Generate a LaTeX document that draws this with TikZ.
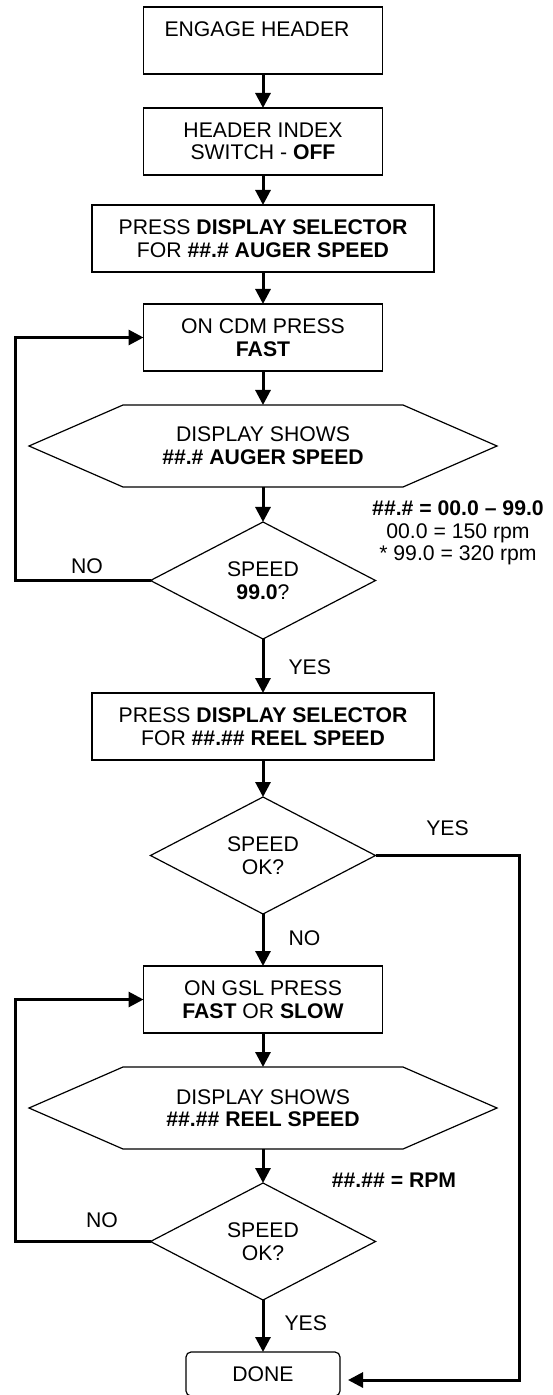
\documentclass[tikz,border=0pt]{standalone}
\usepackage{fontspec}
\setmainfont{Liberation Sans}
\usetikzlibrary{positioning,arrows.meta,shapes.geometric}

\begin{document}
\begin{tikzpicture}[
    x=0.5pt, y=-0.5pt,
    node distance=17pt,
    font=\fontsize{10.6}{11.3}\selectfont,
    box/.style={draw, line width=0.6pt, minimum width=119.5pt, minimum height=33.5pt, inner sep=0pt, outer sep=0pt, align=center},
    widebox/.style={box, minimum width=171pt},
    hexa/.style={minimum width=140pt, minimum height=41pt, inner sep=0pt, outer sep=0pt, align=center},
    decide/.style={draw, diamond, line width=0.6pt, minimum width=112.5pt, minimum height=58.5pt, inner sep=0pt, outer sep=0pt, align=center},
    endbox/.style={draw, rounded corners=2.5pt, line width=0.6pt, minimum width=77pt, minimum height=22pt, inner sep=0pt, outer sep=0pt},
    lbl/.style={inner sep=0pt},
    note/.style={align=center, inner sep=0pt},
    flow/.style={line width=1.5pt, ->},
    >={Triangle[length=7.5pt, width=7.5pt]}
]
    \useasboundingbox (0,0) rectangle (552,1395);

    % main column
    \node[box] (engage) at (263,40.5) {ENGAGE HEADER\rule{6pt}{0pt}\\\mbox{}};
    \node[box, below=of engage] (index) {HEADER INDEX\\SWITCH - \textbf{OFF}};
    \node[widebox, below=15pt of index] (selA) {PRESS \textbf{DISPLAY SELECTOR}\\FOR \textbf{\#\#.\# AUGER SPEED}};
    \node[box, below=16pt of selA] (cdm) {ON CDM PRESS\\\textbf{FAST}};
    \node[hexa, below=17pt of cdm] (showA) {DISPLAY SHOWS\\\textbf{\#\#.\# AUGER SPEED}};
    \node[decide, below=17.5pt of showA] (spdA) {SPEED\\\textbf{99.0}?};
    \node[widebox, below=27pt of spdA] (selB) {PRESS \textbf{DISPLAY SELECTOR}\\FOR \textbf{\#\#.\#\# REEL SPEED}};
    \node[decide, below=18.5pt of selB] (okA) {SPEED\\OK?};
    \node[box, below=26pt of okA] (gsl) {ON GSL PRESS\\\textbf{FAST} OR \textbf{SLOW}};
    \node[hexa, below=17pt of gsl] (showB) {DISPLAY SHOWS\\\textbf{\#\#.\#\# REEL SPEED}};
    \node[decide, below=17pt of showB] (okB) {SPEED\\OK?};
    \node[endbox, below=26pt of okB] (done) {DONE};

    % notes
    \node[note] (augernote) at (458,533) {\textbf{\#\#.\# = 00.0 -- 99.0}\\00.0 = 150 rpm\\* 99.0 = 320 rpm};
    \node[note] (reelnote) at (394,1180) {\textbf{\#\#.\#\# = RPM}};

    % display outlines
    \foreach \h in {showA,showB}
        \draw[line width=0.6pt] (\h.north west) -- (\h.north east) -- ([xshift=47pt]\h.east)
            -- (\h.south east) -- (\h.south west) -- ([xshift=-47pt]\h.west) -- cycle;

    \draw[flow] (engage) -- (index);
    \draw[flow] (index) -- (selA);
    \draw[flow] (selA) -- (cdm);
    \draw[flow] (cdm) -- (showA);
    \draw[flow] (showA) -- (spdA);
    \draw[flow] (spdA.west) -- node[lbl, above=2.5pt, pos=0.47] {NO} ++(-67.5pt,0) |- (cdm.west);
    \draw[flow] (spdA) -- node[lbl, right=12pt, pos=0.52] {YES} (selB);
    \draw[flow] (selB) -- (okA);
    \draw[flow, shorten >=4pt] (okA.east) -- node[lbl, above=9.2pt] {YES} ++(72pt,0) |- ([yshift=-3pt]done.east);
    \draw[flow] (okA) -- node[lbl, right=12pt, pos=0.46] {NO} (gsl);
    \draw[flow] (gsl) -- (showB);
    \draw[flow] (showB) -- (okB);
    \draw[flow] (okB.west) -- node[lbl, above=6.2pt, pos=0.36] {NO} ++(-67.5pt,0) |- (gsl.west);
    \draw[flow] (okB) -- node[lbl, right=10pt, pos=0.44] {YES} (done);
\end{tikzpicture}
\end{document}
